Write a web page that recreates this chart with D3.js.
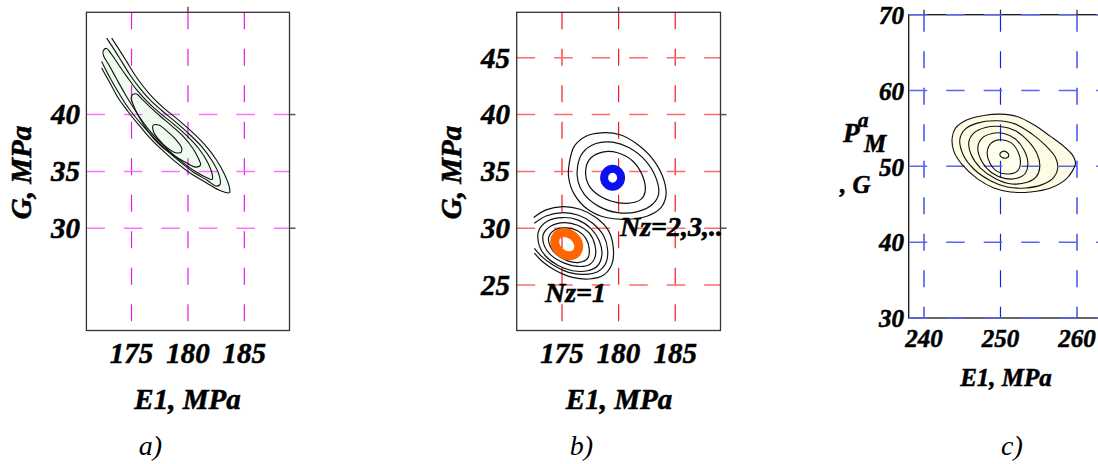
<!DOCTYPE html>
<html>
<head>
<meta charset="utf-8">
<script src="https://cdn.jsdelivr.net/npm/d3@7"></script>
<style>
  html, body { margin: 0; padding: 0; background: #fff; }
  svg { display: block; }
  text { font-family: "Liberation Serif", "Times New Roman", serif; fill: #000; }
  text.heavy { stroke: #000; stroke-width: 0.55px; paint-order: stroke; }
</style>
</head>
<body>
<svg id="chart" width="1098" height="464"></svg>
<script>
// ---------- axis ticks ----------
const e1TicksAB = [175, 180, 185];
const gTicksA = [30, 35, 40];
const gTicksB = [25, 30, 35, 40, 45];
const e1TicksC = [240, 250, 260];
const gTicksC = [30, 40, 50, 60, 70];
// major ticks (every 10 MPa) drawn outside the frame
const majorE1AB = [180];
const majorGAB = [30, 40];
const majorE1C = [240, 250, 260];

// ---------- (a) likelihood contours, [E1, G] in MPa ----------
// two outer levels leave the computed region at the upper left (open lines)
const contourA1 = [[173.24,46.73],[173.82,45.85],[174.56,44.68],[175.29,43.51],[176.03,42.49],[176.91,41.46],[177.94,40.50],[179.12,39.56],[180.29,38.54],[181.47,37.37],[182.50,36.05],[183.24,34.74],[183.68,33.57],[183.68,33.13],[182.94,33.27],[181.62,34.01],[180.15,34.88],[178.82,35.91],[177.65,36.93],[176.62,37.95],[175.74,38.98],[175.00,39.85],[174.56,40.44],[173.82,41.46],[173.09,42.78],[172.35,44.09]];
const contourA2 = [[172.79,46.73],[173.38,45.85],[174.12,44.68],[174.85,43.51],[175.68,42.40],[176.62,41.32],[177.65,40.38],[178.82,39.42],[180.00,38.39],[181.18,37.22],[182.15,35.91],[182.74,34.74],[182.85,33.86],[182.50,33.71],[181.76,34.18],[180.44,34.97],[179.12,35.99],[177.94,37.02],[176.91,38.04],[175.97,39.06],[175.21,39.94],[174.62,40.73],[173.91,41.84],[173.09,43.25],[172.35,44.68]];
const contourA3 = [[172.50,45.64],[172.79,45.82],[173.15,45.41],[173.85,44.39],[174.62,43.30],[175.44,42.19],[176.38,41.17],[177.50,40.15],[178.68,39.21],[179.85,38.19],[180.97,36.99],[181.76,35.76],[182.15,34.74],[182.15,34.30],[181.62,34.47],[180.74,34.94],[179.50,35.82],[178.38,36.75],[177.35,37.75],[176.47,38.74],[175.74,39.74],[175.09,40.73],[174.41,41.84],[173.68,43.13],[173.00,44.36],[172.50,45.23]];
const contourA4 = [[175.09,41.75],[175.44,41.81],[175.97,41.32],[176.68,40.64],[177.56,39.85],[178.59,38.98],[179.62,38.04],[180.44,37.02],[180.97,36.05],[181.12,35.56],[180.68,35.38],[179.85,35.76],[178.82,36.35],[177.79,37.08],[176.91,37.95],[176.12,39.04],[175.50,40.09],[175.09,41.02],[174.97,41.46]];
const contourA5 = [[176.91,39.04],[177.41,39.09],[178.24,38.45],[178.97,37.75],[179.44,37.08],[179.41,36.70],[178.91,36.64],[178.15,37.08],[177.41,37.81],[176.97,38.45]];

// ---------- (b) contours for Nz = 2,3,.. ----------
const contourU1 = [[175.65,35.76],[176.09,37.22],[177.12,38.10],[178.44,38.39],[180.06,38.25],[181.68,37.37],[183.15,35.91],[184.03,34.15],[184.18,32.84],[183.74,31.81],[182.56,31.08],[180.65,30.79],[178.88,30.94],[177.26,31.67],[176.09,32.98],[175.59,34.44]];
const contourU2 = [[176.38,35.47],[176.82,36.64],[178.00,37.46],[179.47,37.57],[180.94,37.08],[182.41,35.91],[183.35,34.30],[183.53,32.98],[183.00,32.11],[181.68,31.46],[179.91,31.37],[178.29,31.90],[176.97,32.98],[176.41,34.15]];
const contourU3 = [[177.12,35.32],[177.56,36.20],[178.59,36.70],[179.91,36.64],[181.24,35.91],[182.12,34.59],[182.35,33.27],[181.97,32.54],[180.79,32.19],[179.32,32.40],[178.00,33.07],[177.26,34.01]];
const peakNz23 = [[180.22,34.45],[180.00,35.00],[179.47,35.24],[178.94,35.00],[178.72,34.45],[178.94,33.90],[179.47,33.66],[180.00,33.90]];

// ---------- (b) contours for Nz = 1 ----------
const contourL1 = [[172.50,30.94],[173.59,31.61],[175.06,31.90],[176.59,31.67],[178.00,30.94],[179.12,29.77],[179.53,28.30],[179.41,26.84],[178.68,25.88],[177.41,25.53],[175.94,25.67],[174.47,26.26],[173.29,27.05],[172.56,27.81]];
const contourL2 = [[172.56,30.44],[173.59,31.08],[175.06,31.37],[176.47,31.14],[177.71,30.44],[178.68,29.33],[179.03,28.10],[178.88,26.93],[178.15,26.17],[176.97,25.94],[175.59,26.11],[174.18,26.78],[173.15,27.57],[172.56,28.22]];
const contourL3 = [[172.94,29.77],[173.74,30.64],[175.06,30.94],[176.38,30.73],[177.56,29.97],[178.29,28.89],[178.53,27.72],[178.15,26.70],[177.26,26.26],[175.94,26.26],[174.62,26.75],[173.59,27.51],[173.00,28.45]];
const contourL4 = [[173.35,29.47],[174.03,30.20],[175.21,30.50],[176.38,30.26],[177.41,29.56],[177.91,28.51],[177.91,27.43],[177.41,26.78],[176.38,26.64],[175.21,26.93],[174.03,27.63],[173.44,28.45]];
const contourL5 = [[173.82,29.18],[174.32,29.82],[175.35,30.03],[176.38,29.77],[177.12,29.09],[177.41,28.16],[177.26,27.34],[176.53,26.99],[175.50,27.13],[174.47,27.72],[173.94,28.45]];
const peakNz1 = [[176.30,27.86],[175.63,27.58],[174.83,27.90],[174.38,28.62],[174.54,29.34],[175.21,29.62],[176.01,29.30],[176.46,28.58]];

// ---------- (c) contours ----------
const contourC1 = [[243.68,53.73],[244.12,55.04],[245.64,56.14],[247.82,56.71],[250.00,56.89],[252.18,56.58],[254.36,55.48],[256.54,53.95],[258.28,52.63],[259.37,51.54],[259.80,50.44],[259.37,49.34],[258.50,48.25],[256.54,47.15],[253.92,46.62],[251.31,46.62],[249.13,47.15],[246.95,48.38],[244.99,50.22],[243.90,51.97]];
const contourC2 = [[244.68,53.51],[245.29,54.82],[246.95,55.70],[249.56,56.01],[251.96,55.57],[254.14,54.25],[255.88,52.76],[257.19,51.18],[257.49,49.78],[256.97,48.55],[255.45,47.59],[253.27,47.15],[250.87,47.28],[248.69,48.11],[246.51,49.65],[245.12,51.54]];
const contourC3 = [[245.86,53.20],[246.51,54.39],[248.04,55.13],[250.00,55.26],[251.96,54.69],[253.57,53.38],[254.79,51.62],[255.14,50.00],[254.71,48.68],[253.49,47.89],[251.53,47.68],[249.35,48.38],[247.39,49.78],[246.17,51.54]];
const contourC4 = [[247.04,52.50],[247.60,53.73],[248.91,54.34],[250.44,54.34],[251.96,53.60],[253.05,52.19],[253.57,50.57],[253.27,49.12],[252.27,48.46],[250.65,48.38],[248.91,49.12],[247.60,50.57]];
const contourC5 = [[248.26,51.89],[248.78,53.07],[249.91,53.51],[251.31,53.16],[252.27,51.97],[252.61,50.57],[252.27,49.43],[251.09,48.99],[249.56,49.34],[248.61,50.44]];
const contourC6 = [[249.91,51.54],[250.22,51.97],[250.78,51.89],[251.09,51.45],[250.78,51.10],[250.22,51.18]];

// ---------- drawing ----------
const svg = d3.select("#chart");

function makePanel(p) {
  const g = svg.append("g");
  const x = d3.scaleLinear().domain(p.xDomain).range(p.xRange);
  const y = d3.scaleLinear().domain(p.yDomain).range(p.yRange);
  const [x0, x1] = p.xRange;
  const [y1, y0] = p.yRange; // y0 top, y1 bottom
  const closed = d3.line().x(d => x(d[0])).y(d => y(d[1])).curve(d3.curveCatmullRomClosed.alpha(0.5));
  const open = d3.line().x(d => x(d[0])).y(d => y(d[1])).curve(d3.curveCatmullRom.alpha(0.5));
  return { g, x, y, x0, x1, y0, y1, closed, open };
}

function drawGrid(P, xt, yt, vColor, hColor) {
  P.g.append("g").selectAll("line").data(xt).join("line")
    .attr("x1", d => P.x(d)).attr("x2", d => P.x(d))
    .attr("y1", P.y0).attr("y2", P.y1)
    .attr("stroke", vColor).attr("stroke-width", 1.2)
    .attr("stroke-dasharray", "17,19.5");
  P.g.append("g").selectAll("line").data(yt).join("line")
    .attr("x1", P.x0).attr("x2", P.x1)
    .attr("y1", d => P.y(d)).attr("y2", d => P.y(d))
    .attr("stroke", hColor).attr("stroke-width", 1.5)
    .attr("stroke-dasharray", "18.5,19");
}

function drawFrame(P, color) {
  P.g.append("rect")
    .attr("x", P.x0).attr("y", P.y0)
    .attr("width", P.x1 - P.x0).attr("height", P.y1 - P.y0)
    .attr("fill", "none").attr("stroke", color).attr("stroke-width", 1.3);
}

function drawContours(P, list, stroke, width) {
  list.forEach(c => {
    P.g.append("path")
      .attr("d", c.closed ? P.closed(c.pts) : P.open(c.pts))
      .attr("fill", "none").attr("stroke", stroke)
      .attr("stroke-width", width).attr("stroke-linejoin", "round");
  });
}

function tickLabels(P, xt, yt, size, xBase, yRight, yDy) {
  P.g.append("g").selectAll("text").data(xt).join("text")
    .attr("class", "heavy")
    .attr("x", d => P.x(d)).attr("y", xBase)
    .attr("text-anchor", "middle").attr("font-size", size)
    .attr("font-weight", "bold").attr("font-style", "italic")
    .text(d => d);
  P.g.append("g").selectAll("text").data(yt).join("text")
    .attr("class", "heavy")
    .attr("x", yRight).attr("y", d => P.y(d) + yDy)
    .attr("text-anchor", "end").attr("font-size", size)
    .attr("font-weight", "bold").attr("font-style", "italic")
    .text(d => d);
}

function label(g, x, y, txt, size, opts = {}) {
  const bold = opts.bold !== false;
  const t = g.append("text").attr("x", x).attr("y", y)
    .attr("class", bold ? "heavy" : null)
    .attr("font-size", size)
    .attr("text-anchor", opts.anchor || "middle")
    .attr("font-weight", bold ? "bold" : "normal")
    .attr("font-style", "italic")
    .text(txt);
  if (opts.rotate) t.attr("transform", `rotate(${opts.rotate},${x},${y})`);
  return t;
}

function outerTicks(P, xt, yt, color) {
  P.g.append("g").selectAll("line").data(xt).join("line")
    .attr("x1", d => P.x(d)).attr("x2", d => P.x(d))
    .attr("y1", P.y0 - 5.5).attr("y2", P.y0)
    .attr("stroke", color).attr("stroke-width", 1.5);
  P.g.append("g").selectAll("line").data(yt).join("line")
    .attr("x1", P.x1).attr("x2", P.x1 + 6)
    .attr("y1", d => P.y(d)).attr("y2", d => P.y(d))
    .attr("stroke", color).attr("stroke-width", 1.5);
}

// ===== panel (a) =====
const A = makePanel({ xDomain: [171, 189], xRange: [86.4, 289.5], yDomain: [21, 49], yRange: [330.5, 12.3] });
A.g.append("path").attr("d", A.closed(contourA1)).attr("fill", "#f0fbf0").attr("stroke", "none");
drawGrid(A, e1TicksAB, gTicksA, "#e81ae8", "#ff70ff");
drawContours(A, [
  { pts: contourA1, closed: false }, { pts: contourA2, closed: false },
  { pts: contourA3, closed: true }, { pts: contourA4, closed: true }, { pts: contourA5, closed: true }
], "#111", 1.1);
drawFrame(A, "#333");
outerTicks(A, majorE1AB, majorGAB, "#555");
tickLabels(A, e1TicksAB, gTicksA, 29, 363, 80, 9.8);
label(A.g, 187.5, 409, "E1, MPa", 29);
label(A.g, 31, 172.5, "G, MPa", 29, { rotate: -90 });
label(A.g, 150.5, 455, "a)", 28, { bold: false });

// ===== panel (b) =====
const B = makePanel({ xDomain: [171, 189], xRange: [516.7, 720.5], yDomain: [21, 49], yRange: [330.5, 12.3] });
drawGrid(B, e1TicksAB, gTicksB, "#f01c1c", "#ff6a6a");
drawContours(B, [
  { pts: contourU1, closed: true }, { pts: contourU2, closed: true }, { pts: contourU3, closed: true },
  { pts: contourL1, closed: false }, { pts: contourL2, closed: false },
  { pts: contourL3, closed: true }, { pts: contourL4, closed: true }, { pts: contourL5, closed: true }
], "#111", 1.2);
drawContours(B, [{ pts: peakNz23, closed: true }], "#0a10f0", 8);
drawContours(B, [{ pts: peakNz1, closed: true }], "#ff6600", 9);
drawFrame(B, "#333");
outerTicks(B, majorE1AB, majorGAB, "#555");
tickLabels(B, e1TicksAB, gTicksB, 29, 363, 510, 9.8);
label(B.g, 619, 409, "E1, MPa", 29);
label(B.g, 461, 172.5, "G, MPa", 29, { rotate: -90 });
label(B.g, 581.5, 455, "b)", 28, { bold: false });
label(B.g, 545, 301.5, "Nz=1", 28, { anchor: "start" });
label(B.g, 620, 236, "Nz=2,3,..", 28, { anchor: "start" });

// ===== panel (c) =====
const C = makePanel({ xDomain: [238, 270], xRange: [908.7, 1153.5], yDomain: [30, 70], yRange: [318, 14.7] });
C.g.append("path").attr("d", C.closed(contourC1)).attr("fill", "#fffce6").attr("stroke", "none");
C.g.append("path").attr("d", C.closed(contourC4)).attr("fill", "#ffffee").attr("stroke", "none");
drawFrame(C, "#111");
drawGrid(C, e1TicksC, gTicksC, "#1424e6", "#5a66f2");
drawContours(C, [
  { pts: contourC1, closed: true }, { pts: contourC2, closed: true }, { pts: contourC3, closed: true },
  { pts: contourC4, closed: true }, { pts: contourC5, closed: true }, { pts: contourC6, closed: true }
], "#111", 1.1);
C.g.append("g").selectAll("line").data(majorE1C).join("line")
  .attr("x1", d => C.x(d)).attr("x2", d => C.x(d))
  .attr("y1", C.y0 - 5).attr("y2", C.y0)
  .attr("stroke", "#333").attr("stroke-width", 1.3);
tickLabels(C, e1TicksC, gTicksC, 25, 347, 904, 9.3);
label(C.g, 1006, 386, "E1, MPa", 25);
label(C.g, 1012, 455, "c)", 28, { bold: false });
// y title rendered as separate glyph groups
label(C.g, 843, 142, "P", 27, { anchor: "start" });
label(C.g, 858, 127, "a", 21, { anchor: "start" });
label(C.g, 864, 152, "M", 25, { anchor: "start" });
label(C.g, 840, 193, ", G", 25, { anchor: "start" });
</script>
</body>
</html>
